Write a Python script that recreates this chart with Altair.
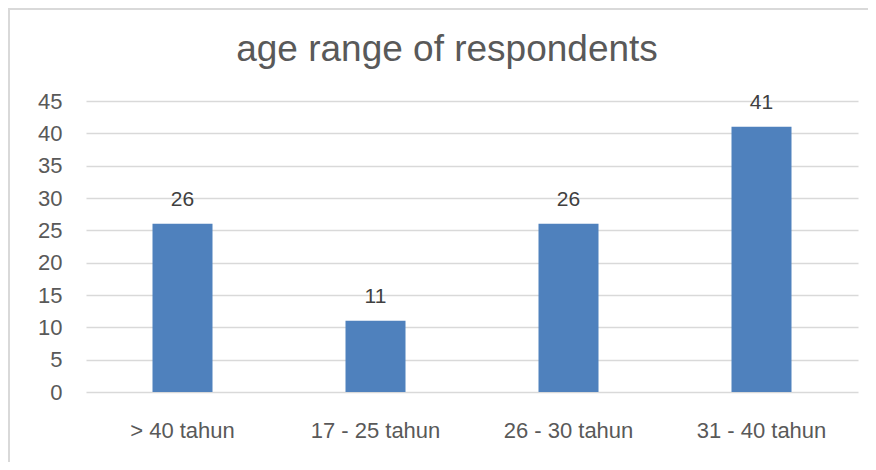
import altair as alt
import pandas as pd

categories = ["> 40 tahun", "17 - 25 tahun", "26 - 30 tahun", "31 - 40 tahun"]
counts = [26, 11, 26, 41]
y_ticks = [0, 5, 10, 15, 20, 25, 30, 35, 40, 45]

df = pd.DataFrame({"cat": categories, "n": counts})

W, H = 772, 291
FONT = "Liberation Sans"

x = alt.X("cat:N", sort=categories, title=None,
          axis=alt.Axis(labelAngle=0, labelFontSize=22, labelColor="#595959", labelFont=FONT,
                        ticks=False, domain=False, labelPadding=28, labelBaseline="top", grid=False))
y = alt.Y("n:Q", title=None,
          scale=alt.Scale(domain=[0, 45], nice=False),
          axis=alt.Axis(values=y_ticks, labelFontSize=22, labelColor="#595959", labelFont=FONT,
                        ticks=False, domain=False, labelPadding=24, grid=True, labelOverlap=False,
                        gridColor="#D9D9D9", gridWidth=1.5))

border = alt.Chart(df).mark_rect(fill="transparent", stroke="#D9D9D9", strokeWidth=1.5).encode(
    x=alt.value(-77), x2=alt.value(W + 60), y=alt.value(-92), y2=alt.value(H + 100)
)

bars = alt.Chart(df).mark_bar(size=60, color="#4F81BD").encode(x=x, y=y)
labels = alt.Chart(df).mark_text(fontSize=21, font=FONT, color="#404040", baseline="alphabetic", dy=-18).encode(
    x=x, y=y, text="n:Q"
)

chart = alt.layer(bars, labels, border).properties(
    width=W, height=H,
    title=alt.TitleParams("age range of respondents", fontSize=37, font=FONT, color="#595959",
                          fontWeight="normal", anchor="middle", baseline="alphabetic", offset=-90, dx=-25),
    autosize=alt.AutoSizeParams(type="none"),
    padding={"left": 78, "top": 93, "right": 10, "bottom": 70},
).configure(background="white", view=alt.ViewConfig(stroke=None))

chart.save("out.html", embed_options={"renderer": "svg", "actions": False})
